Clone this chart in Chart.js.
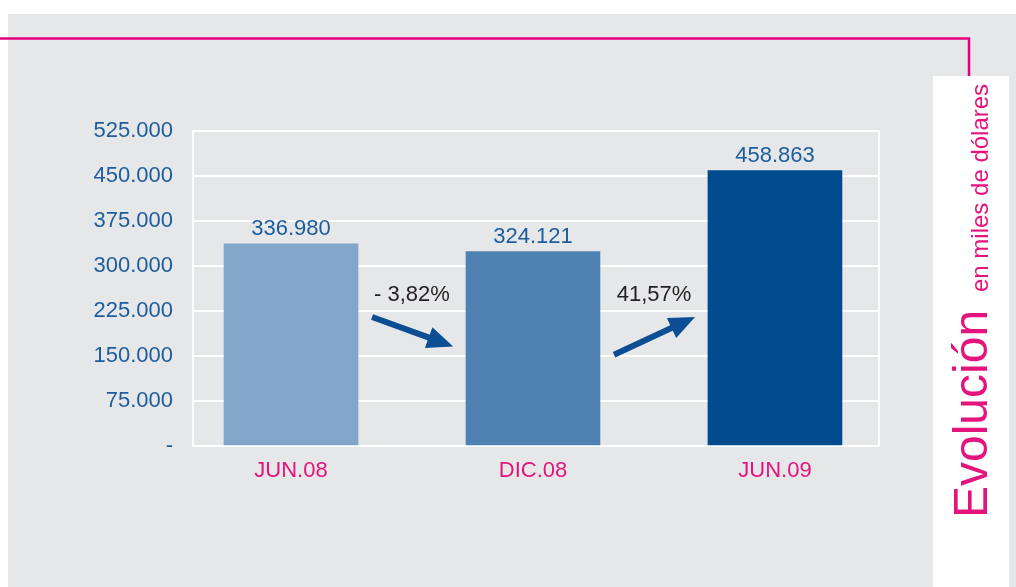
<!DOCTYPE html>
<html>
<head>
<meta charset="utf-8">
<script src="https://cdn.jsdelivr.net/npm/chart.js@4/dist/chart.umd.min.js"></script>
<style>
  html, body { margin: 0; padding: 0; background: #fff; }
  #wrap { width: 1016px; height: 587px; position: relative; }
</style>
</head>
<body>
<div id="wrap"><canvas id="chartjs" width="1016" height="587"></canvas></div>
<script>
// data
const categories = ["JUN.08", "DIC.08", "JUN.09"];
const values = [336980, 324121, 458863];
const valueLabels = ["336.980", "324.121", "458.863"];
const changeLabels = ["- 3,82%", "41,57%"];
const yTicks = [0, 75000, 150000, 225000, 300000, 375000, 450000, 525000];
const yTickLabels = ["-", "75.000", "150.000", "225.000", "300.000", "375.000", "450.000", "525.000"];

const barColors = ["#81a6ca", "#4f82b3", "#004b8e"];
const blue = "#1d5c9d";
const pink = "#e5137c";
const FONT = "'Liberation Sans', Arial, sans-serif";

const X_MIN = -0.405;
const X_MAX = 2.43;

const drawArrow = (ctx, x1, y1, x2, y2) => {
  const ang = Math.atan2(y2 - y1, x2 - x1);
  const headLen = 26;
  const headW = 11;
  const bx = x2 - headLen * Math.cos(ang);
  const by = y2 - headLen * Math.sin(ang);
  ctx.strokeStyle = "#0b4e93";
  ctx.fillStyle = "#0b4e93";
  ctx.lineWidth = 6;
  ctx.beginPath();
  ctx.moveTo(x1, y1);
  ctx.lineTo(bx + 4 * Math.cos(ang), by + 4 * Math.sin(ang));
  ctx.stroke();
  ctx.beginPath();
  ctx.moveTo(x2, y2);
  ctx.lineTo(bx + headW * Math.sin(ang), by - headW * Math.cos(ang));
  ctx.lineTo(bx - headW * Math.sin(ang), by + headW * Math.cos(ang));
  ctx.closePath();
  ctx.fill();
};

const decor = {
  id: "decor",
  beforeDraw(chart) {
    const ctx = chart.ctx;
    ctx.save();
    // grey panel
    ctx.fillStyle = "#e6e7e8";
    ctx.fillRect(8, 14, 1008, 573);
    // white side box
    ctx.fillStyle = "#ffffff";
    ctx.fillRect(933, 76, 76, 511);
    // pink frame line
    ctx.strokeStyle = "#e4007d";
    ctx.lineWidth = 2.5;
    ctx.beginPath();
    ctx.moveTo(0, 38.5);
    ctx.lineTo(969, 38.5);
    ctx.lineTo(969, 76);
    ctx.stroke();
    // rotated title
    ctx.fillStyle = pink;
    ctx.textAlign = "left";
    ctx.textBaseline = "alphabetic";
    ctx.translate(987, 518);
    ctx.rotate(-Math.PI / 2);
    ctx.font = "300 48px " + FONT;
    ctx.fillText("Evolución", 0, 0);
    ctx.font = "24px " + FONT;
    ctx.fillText("en miles de dólares", 226, 1);
    ctx.restore();
  },
  afterDatasetsDraw(chart) {
    const ctx = chart.ctx;
    const xs = chart.scales.x;
    const ys = chart.scales.y;
    const meta = chart.getDatasetMeta(0);
    ctx.save();
    ctx.font = "22px " + FONT;
    ctx.textAlign = "center";
    ctx.textBaseline = "middle";
    ctx.fillStyle = blue;
    meta.data.forEach((bar, i) => {
      ctx.fillText(valueLabels[i], bar.x, bar.y - 15);
    });
    changeLabels.forEach((lab, i) => {
      const m = i + 0.5;
      const down = values[i + 1] < values[i];
      ctx.fillStyle = "#231f20";
      ctx.fillText(lab, xs.getPixelForValue(m), ys.getPixelForValue(252000));
      const y1 = down ? 215000 : 152000;
      const y2 = down ? 166000 : 215000;
      drawArrow(ctx,
        xs.getPixelForValue(m - 0.165), ys.getPixelForValue(y1),
        xs.getPixelForValue(m + 0.17), ys.getPixelForValue(y2));
    });
    ctx.restore();
  }
};

const initChart = () => {
  const chartElem = document.getElementById("chartjs");
  const chart = new Chart(chartElem, {
    type: "bar",
    data: {
      datasets: [
        {
          data: values.map((v, i) => ({ x: i, y: v })),
          backgroundColor: barColors,
          borderWidth: 0,
          barThickness: 134
        }
      ]
    },
    options: {
      responsive: false,
      animation: false,
      layout: {
        padding: { left: 0, top: 131, right: 137, bottom: 0 }
      },
      plugins: {
        legend: { display: false },
        tooltip: { enabled: false }
      },
      scales: {
        x: {
          type: "linear",
          offset: false,
          min: X_MIN,
          max: X_MAX,
          afterFit: (scale) => { scale.height = 141; },
          afterBuildTicks: (scale) => {
            scale.ticks = [X_MIN, 0, 1, 2, X_MAX].map((v) => ({ value: v }));
          },
          ticks: {
            autoSkip: false,
            maxRotation: 0,
            padding: 12,
            color: pink,
            font: { family: FONT, size: 22 },
            callback: (v) => (Number.isInteger(v) ? categories[v] : "")
          },
          grid: {
            offset: false,
            drawTicks: false,
            lineWidth: 2,
            color: (c) => (c.tick && (c.tick.value === X_MIN || c.tick.value === X_MAX) ? "#ffffff" : "rgba(0,0,0,0)")
          },
          border: { display: false }
        },
        y: {
          min: 0,
          max: 525000,
          afterFit: (scale) => { scale.width = 193; },
          afterBuildTicks: (scale) => {
            scale.ticks = yTicks.map((v) => ({ value: v }));
          },
          ticks: {
            padding: 20,
            color: blue,
            font: { family: FONT, size: 22 },
            callback: (v) => yTickLabels[yTicks.indexOf(v)]
          },
          grid: {
            drawTicks: false,
            lineWidth: 2,
            color: "#ffffff"
          },
          border: { display: true, color: "#ffffff", width: 2 }
        }
      }
    },
    plugins: [decor]
  });
  return chart;
};

initChart();
</script>
</body>
</html>
